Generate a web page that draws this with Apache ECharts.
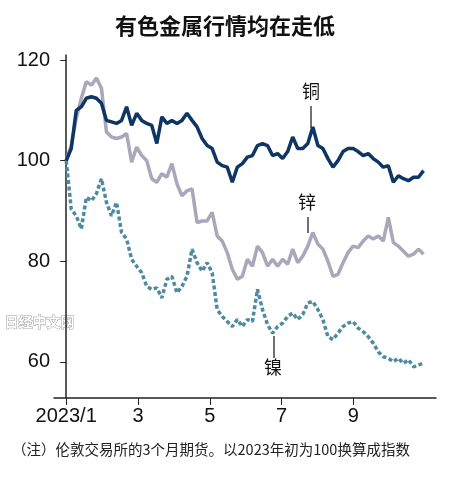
<!DOCTYPE html>
<html>
<head>
<meta charset="utf-8">
<script src="https://cdn.jsdelivr.net/npm/echarts@6/dist/echarts.min.js"></script>
<style>html,body{margin:0;padding:0;background:#fff}#c{width:450px;height:478px}</style>
</head>
<body>
<div id="c"></div>
<script>
// index values, sampled at an even step of STEP months from 2023/1
const STEP = 15 / 107;
const copper = [100,102.4,110,110.7,112.4,112.7,112.4,111.4,108,107.7,107.4,108,110.7,107,109.4,108,107.4,107,103.4,108.7,107.4,108,107.4,108,109.4,108,106.7,104.4,103,102.4,99.7,99,98.7,95.7,98.7,99.4,100.7,101,103,103.4,103,101,101.4,100.4,101.8,104.7,102.4,102.4,103.4,106.7,103,102.4,100.4,98.7,100,101.8,102.4,102.4,101.8,101,101.4,100.4,99.7,98.7,99,95.7,97,96.4,96,96.7,96.7,98];
const zinc = [100,103,108.4,112.4,115.7,115,116.4,114.4,105.7,104.7,104.4,104.7,105.4,99.7,102.7,101,100,96.4,95.7,97.4,96.7,99.4,95.4,93,94,94.4,87.7,88,88,89.7,85,84,81.7,78.4,76.4,77,80.4,79,83,81.7,79,80.4,79,80.4,79.4,82.4,79.7,81,83,85.7,83.4,82.4,80,77,77.4,79.7,81.7,83,82.7,84,85,84.4,85,84,88.7,83.7,83,82,81,81.4,82.4,81.4];
const nickel = [100,90.4,89,86.4,92.7,92,93.4,96.4,91.7,89,91.7,85.7,84.4,80.4,79,77.7,75,74.4,74.7,72.7,76.4,77,73.7,75,77,82.4,79.7,78,79.7,77.7,70.4,69,68,67,68.4,67,68.4,68,74.4,70.4,67.4,65.7,67,67.7,69,69.7,68.4,69.4,71.7,72,70.4,68.4,65,64.4,65.7,67,67.7,68,66.7,66,65,63.7,62,61,60.7,60,60.7,59.7,60.4,59,59.4,59.7];
const monthTicks = [0, 2, 4, 6, 8];
const monthLabels = ['2023/1', '3', '5', '7', '9'];
const yTicks = [60, 80, 100, 120];

const pts = arr => arr.map((v, i) => [i * STEP, v]);
const font = '"Noto Sans CJK SC", "Noto Sans", sans-serif';
const numFont = '"Liberation Sans Narrow", "Liberation Sans", sans-serif';

const chart = echarts.init(document.getElementById('c'));
chart.setOption({
  animation: false,
  title: {
    text: '有色金属行情均在走低', left: 'center', top: 10,
    textStyle: { fontSize: 22, fontWeight: 'bold', color: '#111', fontFamily: font }
  },
  grid: { left: 54, right: 14, top: 55, bottom: 80 },
  xAxis: {
    type: 'value', min: -0.34, max: 10.3,
    splitLine: { show: false },
    axisLine: { lineStyle: { color: '#222', width: 1.5 } },
    axisTick: { customValues: monthTicks, length: 7, lineStyle: { color: '#222' } },
    axisLabel: {
      customValues: monthTicks, color: '#111', fontSize: 20, fontFamily: numFont,
      formatter: v => monthLabels[monthTicks.indexOf(Math.round(v))] || ''
    }
  },
  yAxis: {
    type: 'value', min: 52.8, max: 121,
    splitLine: { show: false },
    axisLine: { show: true, lineStyle: { color: '#222', width: 1.5 } },
    axisTick: { customValues: yTicks, length: -6, inside: true, lineStyle: { color: '#222' } },
    axisLabel: { customValues: yTicks, color: '#111', fontSize: 20, margin: 4, fontFamily: numFont }
  },
  series: [
    { type: 'line', data: pts(zinc), symbol: 'none', lineStyle: { color: '#aba7ba', width: 3.5 } },
    { type: 'line', data: pts(nickel), symbol: 'none', lineStyle: { color: '#4f8aa3', width: 3.5, type: [4, 2.5] } },
    { type: 'line', data: pts(copper), symbol: 'none', lineStyle: { color: '#0e3563', width: 3.5 } }
  ],
  graphic: [
    { type: 'text', left: 302, top: 82, style: { text: '铜', fill: '#111', font: '18px ' + font } },
    { type: 'line', shape: { x1: 311, y1: 106, x2: 311, y2: 128 }, style: { stroke: '#111', lineWidth: 1.2 } },
    { type: 'text', left: 298, top: 193, style: { text: '锌', fill: '#111', font: '18px ' + font } },
    { type: 'line', shape: { x1: 308, y1: 217, x2: 308, y2: 233 }, style: { stroke: '#111', lineWidth: 1.2 } },
    { type: 'text', left: 264, top: 358, style: { text: '镍', fill: '#111', font: '18px ' + font } },
    { type: 'line', shape: { x1: 274, y1: 336, x2: 274, y2: 358 }, style: { stroke: '#111', lineWidth: 1.2 } },
    { type: 'text', left: 4, top: 314, style: { text: '日经中文网', fill: '#fff', stroke: '#999', lineWidth: 1, font: 'bold 14px ' + font } },
    { type: 'text', left: 12, top: 442, style: { text: '（注）伦敦交易所的3个月期货。以2023年初为100换算成指数', fill: '#222', font: '14.5px ' + font } }
  ]
});
</script>
</body>
</html>
